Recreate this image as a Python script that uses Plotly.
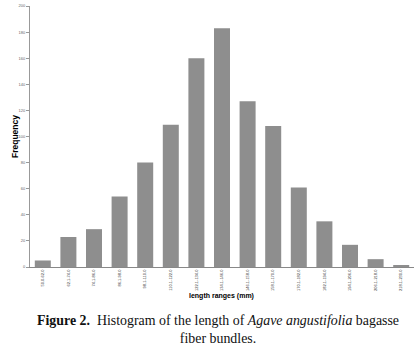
import plotly.graph_objects as go

length_ranges = ["50.0-62.0", "62.1-74.0", "74.1-86.0", "86.1-98.0", "98.1-110.0",
                 "110.1-122.0", "122.1-134.0", "134.1-146.0", "146.1-158.0", "158.1-170.0",
                 "170.1-182.0", "182.1-194.0", "194.1-206.0", "206.1-218.0", "218.1-230.0"]
frequency = [5, 23, 29, 54, 80, 109, 160, 183, 127, 108, 61, 35, 17, 6, 1]
y_ticks = [0, 20, 40, 60, 80, 100, 120, 140, 160, 180, 200]

W, H = 420, 352
ml, mr, mt, mb = 30, 6, 6, 85

fig = go.Figure(go.Bar(x=length_ranges, y=frequency, marker=dict(color="#8e8e8e", line=dict(width=0)),
                       hoverinfo="skip"))

fig.update_layout(
    width=W, height=H,
    margin=dict(l=ml, r=mr, t=mt, b=mb, autoexpand=False),
    paper_bgcolor="white", plot_bgcolor="white",
    bargap=0.375, showlegend=False,
    font=dict(family="Liberation Sans, Arial", color="#555"),
)
fig.update_xaxes(
    type="category", range=[-0.5, 14.5], showline=True, linecolor="#888", linewidth=1,
    showgrid=False, ticks="", tickangle=-90, tickfont=dict(size=4, color="#333"),
    automargin=False,
)
fig.update_yaxes(
    range=[0, 200], tickvals=y_ticks, showline=True, linecolor="#999", linewidth=1,
    showgrid=False, zeroline=False, ticks="outside", ticklen=3, tickcolor="#999",
    tickfont=dict(size=4, color="#666"), automargin=False,
)

pw, ph = W - ml - mr, H - mt - mb

anns = [
    dict(text="<b>Frequency</b>", x=15, y=137, textangle=-90, size=8.5),
    dict(text="<b>length ranges (mm)</b>", x=221, y=296, textangle=0, size=7),
]
for a in anns:
    fig.add_annotation(text=a["text"], xref="paper", yref="paper",
                       x=(a["x"] - ml) / pw, y=(H - mb - a["y"]) / ph,
                       xanchor="center", yanchor="middle", showarrow=False, textangle=a["textangle"],
                       font=dict(size=a["size"], color="#000000", family="Liberation Sans, Arial"))

caption = ("<b>Figure 2.</b>  Histogram of the length of <i>Agave angustifolia</i> bagasse"
           "<br>fiber bundles.")
fig.add_annotation(text=caption, xref="paper", yref="paper",
                   x=(218 - ml) / pw, y=(H - mb - 329) / ph,
                   xanchor="center", yanchor="middle", showarrow=False, align="center",
                   font=dict(size=13.9, color="#111", family="Liberation Serif, Times New Roman"))

fig.write_html("out.html", config={"displayModeBar": False},
               post_script="document.body.style.margin='0';document.body.style.overflow='hidden';")
